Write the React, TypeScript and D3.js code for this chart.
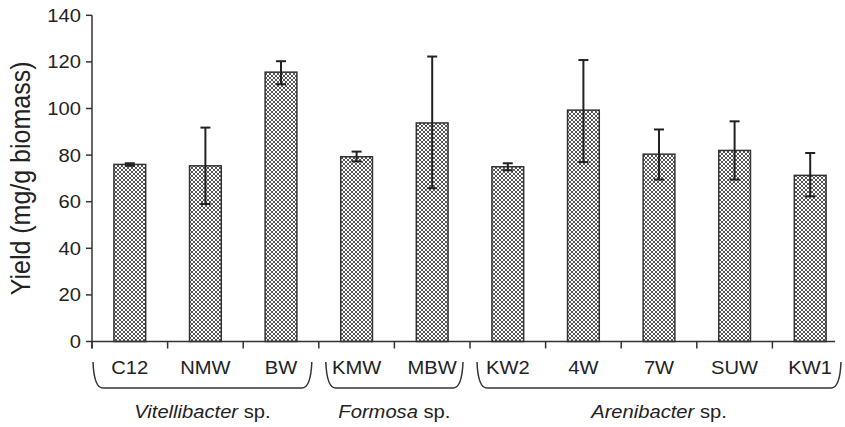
import { scaleBand, scaleLinear } from 'd3';

const categories = ['C12', 'NMW', 'BW', 'KMW', 'MBW', 'KW2', '4W', '7W', 'SUW', 'KW1'];
const yieldValues = [76, 75.4, 115.6, 79.3, 93.8, 75, 99.3, 80.4, 82, 71.3];
const errLow = [75.4, 59, 110.4, 77.3, 65.8, 73.5, 77, 69.5, 69.5, 62.3];
const errHigh = [76.5, 91.8, 120.3, 81.5, 122.3, 76.5, 120.8, 91, 94.5, 80.9];
const yTicks = [0, 20, 40, 60, 80, 100, 120, 140];
const groups = [
  { name: 'Vitellibacter', first: 0, last: 2 },
  { name: 'Formosa', first: 3, last: 4 },
  { name: 'Arenibacter', first: 5, last: 9 },
];

const WIDTH = 845;
const HEIGHT = 427;
const LEFT = 92;
const AXIS_END = 835;
const FONT = '"Liberation Sans", Arial, sans-serif';
const INK = '#222';
// the source figure is slightly wider than tall, so text gets stretched a bit
const SX = 1.12;

const Label = ({ x, y, anchor = 'middle', size = 18, children }: any) => (
  <text
    transform={`translate(${x},${y}) scale(${SX},1)`}
    textAnchor={anchor}
    fontSize={size}
    fill={INK}
  >
    {children}
  </text>
);

export default function App() {
  const x = scaleBand<string>()
    .domain(categories)
    .range([LEFT, LEFT + 756])
    .paddingInner(0.58)
    .paddingOuter(0.29);
  const y = scaleLinear().domain([0, 140]).range([341.5, 15.3]);
  const step = x.step();
  const bandStart = (i: number) => LEFT + step * i;
  const base = y(0);

  const bracket = (x0: number, x1: number) => {
    const top = 362;
    const bottom = 388;
    return `M${x0},${top} Q${x0 + 1},${bottom} ${x0 + 10},${bottom} L${x1 - 10},${bottom} Q${x1 - 1},${bottom} ${x1},${top}`;
  };

  return (
    <svg
      width={WIDTH}
      height={HEIGHT}
      style={{ position: 'absolute', left: 0, top: 0, background: '#fff' }}
      fontFamily={FONT}
    >
      <defs>
        <pattern id="hatch" width="4" height="4" patternUnits="userSpaceOnUse">
          <rect width="4" height="4" fill="#fff" />
          <path d="M0,0 L4,4 M4,0 L0,4 M-1,3 L1,5 M3,-1 L5,1" stroke="#555" strokeWidth="1" />
        </pattern>
      </defs>

      {/* bars */}
      {categories.map((c, i) => (
        <rect
          key={c}
          x={x(c)}
          y={y(yieldValues[i])}
          width={x.bandwidth()}
          height={base - y(yieldValues[i])}
          fill="url(#hatch)"
          stroke="#333"
          strokeWidth={1.5}
        />
      ))}

      {/* error bars */}
      {categories.map((c, i) => {
        const cx = (x(c) ?? 0) + x.bandwidth() / 2;
        return (
          <g key={c} stroke={INK} strokeWidth={2}>
            <line x1={cx} x2={cx} y1={y(errLow[i])} y2={y(errHigh[i])} />
            <line x1={cx - 5} x2={cx + 5} y1={y(errHigh[i])} y2={y(errHigh[i])} />
            <line x1={cx - 5} x2={cx + 5} y1={y(errLow[i])} y2={y(errLow[i])} />
          </g>
        );
      })}

      {/* axes */}
      <g stroke="#333" strokeWidth={1.5}>
        <line x1={LEFT} x2={LEFT} y1={y(140)} y2={base + 7} />
        {yTicks.map((t) => (
          <line key={t} x1={LEFT - 6} x2={LEFT} y1={y(t)} y2={y(t)} />
        ))}
        <line x1={LEFT} x2={AXIS_END} y1={base} y2={base} />
        {categories.map((c, i) => (
          <line key={c} x1={bandStart(i)} x2={bandStart(i)} y1={base} y2={base + 7} />
        ))}
      </g>
      {yTicks.map((t) => (
        <Label key={t} x={LEFT - 11} y={y(t) + 6.5} anchor="end">
          {t}
        </Label>
      ))}
      <text
        transform={`translate(30,${y(70)}) scale(${SX},1) rotate(-90)`}
        textAnchor="middle"
        fontSize={25}
        fill={INK}
      >
        Yield (mg/g biomass)
      </text>

      {/* category labels */}
      {categories.map((c) => (
        <Label key={c} x={(x(c) ?? 0) + x.bandwidth() / 2} y={374}>
          {c}
        </Label>
      ))}

      {/* genus brackets */}
      {groups.map((g, gi) => {
        const x0 = bandStart(g.first) + (gi === 0 ? 1 : 7);
        const x1 = Math.min(bandStart(g.last + 1) - 7, WIDTH);
        return (
          <g key={g.name}>
            <path d={bracket(x0, x1)} fill="none" stroke="#333" strokeWidth={1.5} />
            <Label x={(x0 + x1) / 2} y={418}>
              <tspan fontStyle="italic">{g.name}</tspan> sp.
            </Label>
          </g>
        );
      })}
    </svg>
  );
}
